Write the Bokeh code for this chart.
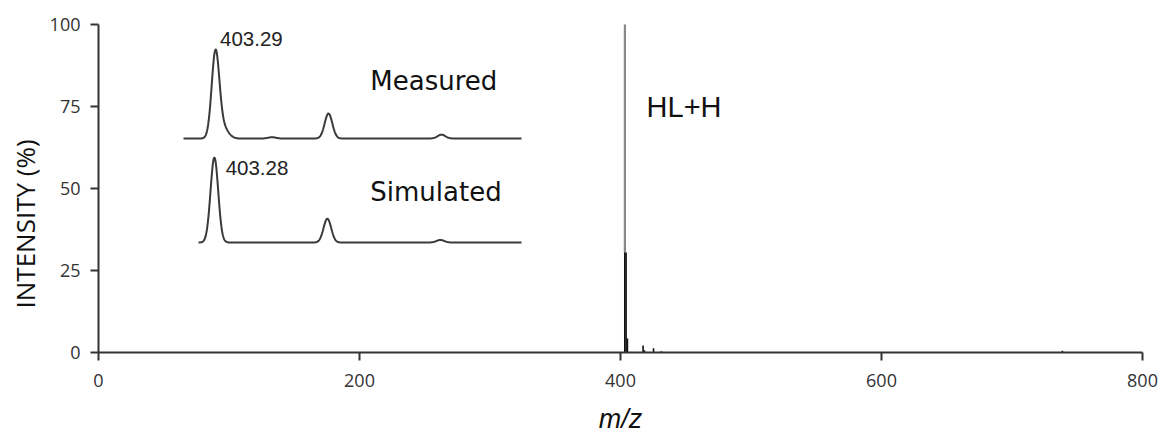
import numpy as np
from bokeh.plotting import figure
from bokeh.models import Range1d, FixedTicker, Title
from bokeh.core.properties import value
from bokeh.embed import file_html
from bokeh.resources import INLINE

# ---- main spectrum (stick peaks) ----
mz_main = [403.29, 404.29, 405.30, 417.30, 418.30, 425.30, 431.30, 738.60]
int_main = [100.0, 30.5, 4.3, 2.1, 0.7, 1.3, 0.4, 0.5]

# ---- inset isotope patterns ----
mz_meas = [403.29, 403.36, 403.79, 404.29, 405.29]
int_meas = [100.0, 12.0, 1.5, 29.0, 4.5]
mz_sim = [403.28, 404.28, 405.28]
int_sim = [100.0, 28.0, 3.0]

x_ticks = [0, 200, 400, 600, 800]
y_ticks = [0, 25, 50, 75, 100]

FL, FR, FT, FB = 98, 1142, 24, 352  # frame in pixels
W, H = 1164, 436

p = figure(width=W, height=H, output_backend="svg", toolbar_location=None,
           x_range=Range1d(0, 800), y_range=Range1d(0, 100),
           min_border_left=FL, min_border_right=W - FR,
           min_border_top=FT, min_border_bottom=H - FB)
p.outline_line_color = None
p.xgrid.visible = False
p.ygrid.visible = False
p.background_fill_color = "white"
p.border_fill_color = "white"

# inset ranges mapped onto the frame
fw, fh = FR - FL, FB - FT
px_per_da = 113.0
ref_px = 215.0
x0 = 403.29 - (ref_px - FL) / px_per_da
x1 = x0 + fw / px_per_da
p.extra_x_ranges = {"inset": Range1d(x0, x1)}
def yr(base_px, top_px):
    s = (base_px - top_px) / 100.0
    return Range1d(-(FB - base_px) / s, (base_px - FT) / s)
p.extra_y_ranges = {"meas": yr(138, 52), "sim": yr(242, 157)}

# main sticks
p.segment(x0=mz_main, y0=[0] * len(mz_main), x1=mz_main, y1=int_main,
          line_color="#111111", line_width=1.6)
p.segment(x0=mz_main[:1], y0=[int_main[1]], x1=mz_main[:1], y1=int_main[:1],
          line_color="#8a8a8a", line_width=2)

# inset profiles
def profile(xs, mzs, ints, sig):
    y = np.zeros_like(xs)
    for m, i in zip(mzs, ints):
        s = sig * (1.3 if i < 20 and abs(m - 403.36) < 0.01 else 1.0)
        y += i * np.exp(-(xs - m) ** 2 / (2 * s ** 2))
    return y

xm = np.linspace(403.29 + (183 - ref_px) / px_per_da, 403.29 + (521 - ref_px) / px_per_da, 900)
xs_ = np.linspace(403.29 + (198 - ref_px) / px_per_da, 403.29 + (521 - ref_px) / px_per_da, 900)
p.line(xm, profile(xm, mz_meas, int_meas, 0.034), x_range_name="inset", y_range_name="meas",
       line_color="#3a3a3a", line_width=2)
p.line(xs_, profile(xs_, mz_sim, int_sim, 0.034), x_range_name="inset", y_range_name="sim",
       line_color="#3a3a3a", line_width=2)

# inset labels
p.text(x=[403.33], y=[116], text=["403.29"], x_range_name="inset", y_range_name="meas",
       text_font=value("Liberation Sans"), text_font_size="20.5px", text_color="#222222",
       text_baseline="middle", text_align="left")
p.text(x=[404.66], y=[67], text=["Measured"], x_range_name="inset", y_range_name="meas",
       text_font=value("DejaVu Sans"), text_font_size="26px", text_color="#111111",
       text_baseline="middle", text_align="left")
p.text(x=[403.38], y=[88], text=["403.28"], x_range_name="inset", y_range_name="sim",
       text_font=value("Liberation Sans"), text_font_size="20.5px", text_color="#222222",
       text_baseline="middle", text_align="left")
p.text(x=[404.66], y=[59], text=["Simulated"], x_range_name="inset", y_range_name="sim",
       text_font=value("DejaVu Sans"), text_font_size="26px", text_color="#111111",
       text_baseline="middle", text_align="left")

# HL+H label
p.text(x=[420], y=[75], text=["HL+H"], text_font=value("Liberation Sans"),
       text_font_size="29px", text_color="#111111", text_baseline="middle", text_align="left")

# axes
for ax in (p.xaxis[0], p.yaxis[0]):
    ax.axis_line_color = "#333333"
    ax.axis_line_width = 2
    ax.major_tick_line_color = "#333333"
    ax.major_tick_line_width = 2
    ax.major_tick_out = 8
    ax.major_tick_in = 0
    ax.minor_tick_line_color = None
    ax.major_label_text_font = "Open Sans"
    ax.major_label_text_font_size = "18px"
    ax.major_label_text_color = "#333333"

p.xaxis[0].ticker = FixedTicker(ticks=x_ticks)
p.yaxis[0].ticker = FixedTicker(ticks=y_ticks)
p.xaxis[0].major_label_standoff = 13
p.yaxis[0].major_label_standoff = 10

p.xaxis[0].axis_label = "m/z"
p.xaxis[0].axis_label_text_font = "Liberation Sans"
p.xaxis[0].axis_label_text_font_style = "italic"
p.xaxis[0].axis_label_text_font_size = "27px"
p.xaxis[0].axis_label_text_color = "#111111"
p.xaxis[0].axis_label_standoff = 14

# y-axis title as a left-side title, placed lower as in the reference
ytitle = Title(text="INTENSITY (%)", align="left", offset=44,
               text_font="Open Sans", text_font_size="26px", text_font_style="normal",
               text_color="#111111", standoff=7)
p.add_layout(ytitle, "left")

open("out.html", "w").write(file_html(p, INLINE))
